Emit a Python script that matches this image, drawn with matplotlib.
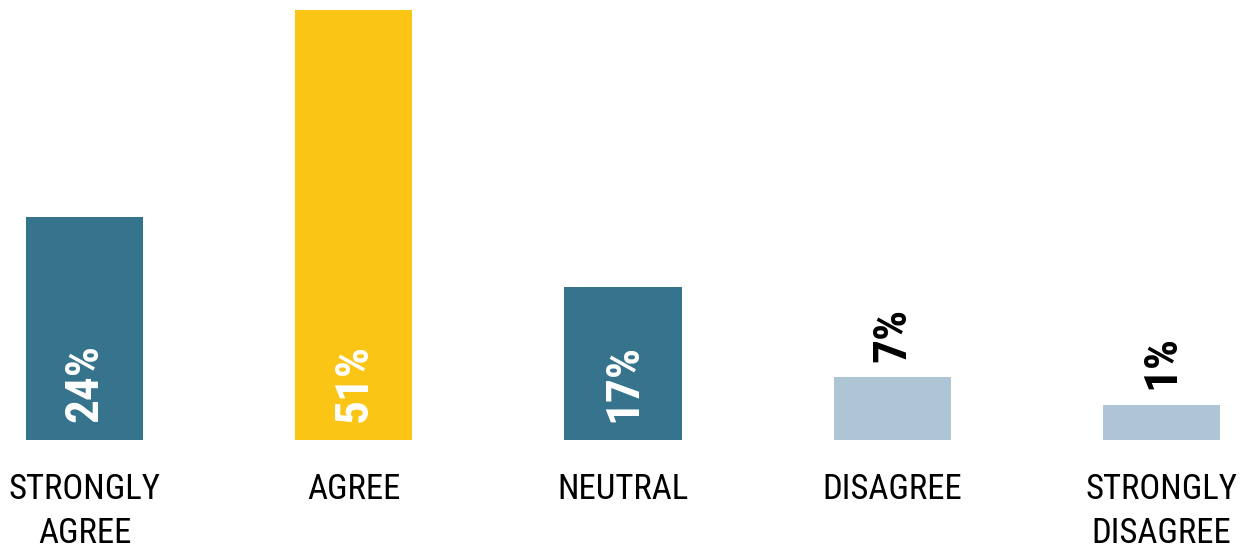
import matplotlib
matplotlib.use("Agg")
import matplotlib.pyplot as plt
from matplotlib import font_manager

# survey answers, label values and bar lengths as drawn in the picture
categories = ["STRONGLY\nAGREE", "AGREE", "NEUTRAL", "DISAGREE", "STRONGLY\nDISAGREE"]
values = [24, 51, 17, 7, 1]
bar_lengths = [24, 46.3, 16.5, 6.8, 3.8]
colors = ["#36738c", "#fbc516", "#36738c", "#adc5d4", "#adc5d4"]
label_inside = [True, True, True, False, False]

names = {f.name for f in font_manager.fontManager.ttflist}
family = "DejaVu Sans"
for cand in ["Roboto Condensed", "PT Sans Narrow", "Barlow Semi Condensed",
             "Archivo Narrow", "Liberation Sans Narrow", "Open Sans Condensed"]:
    if cand in names:
        family = cand
        break
plt.rcParams["font.family"] = [family, "DejaVu Sans"]

fig = plt.figure(figsize=(12.46, 5.53), dpi=100)
ax = fig.add_axes([0, 113 / 553, 1, 430 / 553])

x = range(len(categories))
ax.bar(x, bar_lengths, width=0.435, color=colors)
ax.set_xlim(-0.314, 4.314)
ax.set_ylim(0, max(bar_lengths))

for i, (v, h, inside) in enumerate(zip(values, bar_lengths, label_inside)):
    if inside:
        ax.annotate(f"{v}%", (i, 0), xytext=(0, 13), textcoords="offset points",
                    rotation=90, ha="center", va="bottom", color="white",
                    fontsize=34, fontweight="bold")
    else:
        ax.annotate(f"{v}%", (i, h), xytext=(0, 11), textcoords="offset points",
                    rotation=90, ha="center", va="bottom", color="black",
                    fontsize=34, fontweight="bold")

ax.set_xticks(list(x))
ax.set_xticklabels(categories, fontsize=25, linespacing=1.4)
ax.tick_params(axis="x", length=0, pad=24)
ax.set_yticks([])
for s in ax.spines.values():
    s.set_visible(False)

fig.savefig("out.png", dpi=100)
